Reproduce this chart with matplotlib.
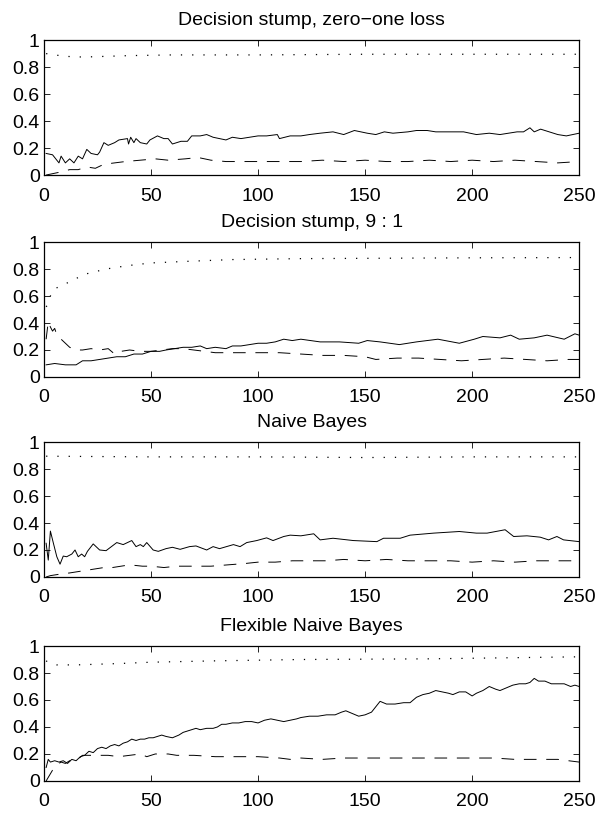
import matplotlib
matplotlib.use('Agg')
import matplotlib.pyplot as plt

plt.rcParams['font.family'] = ['Liberation Sans', 'DejaVu Sans']

titles = ['Decision stump, zero\u2212one loss', 'Decision stump, 9 : 1',
          'Naive Bayes', 'Flexible Naive Bayes']

# --- panel 1: decision stump, zero-one loss
p1_solid_x = [1, 4, 7, 8, 10, 12, 14, 16, 18, 20, 22, 25, 26, 28, 30, 33, 35, 39, 39.5, 40.5, 42,
              43, 45, 48, 49.5, 53, 56, 58, 60, 64, 67, 69, 73, 76, 79, 82, 85, 88, 92, 96, 100,
              104, 109, 110, 115, 120, 124, 129, 135, 140, 145, 151, 155, 159, 163, 170, 174, 179,
              183, 190, 196, 202, 208, 213, 221, 224, 227, 229, 232, 236, 240, 244, 247, 250]
p1_solid_y = [0.16, 0.15, 0.09, 0.14, 0.09, 0.12, 0.09, 0.14, 0.12, 0.19, 0.16, 0.15, 0.17, 0.24,
              0.22, 0.24, 0.26, 0.27, 0.23, 0.28, 0.24, 0.27, 0.24, 0.23, 0.26, 0.29, 0.27, 0.27,
              0.23, 0.25, 0.25, 0.29, 0.29, 0.30, 0.28, 0.27, 0.26, 0.28, 0.27, 0.28, 0.29, 0.29,
              0.30, 0.27, 0.29, 0.29, 0.30, 0.31, 0.32, 0.30, 0.33, 0.31, 0.30, 0.32, 0.31, 0.32,
              0.33, 0.33, 0.32, 0.32, 0.32, 0.30, 0.31, 0.30, 0.32, 0.32, 0.35, 0.32, 0.34, 0.32,
              0.30, 0.29, 0.30, 0.31]
p1_dash_x = [1, 4, 7, 12, 16, 20, 24, 28, 33, 38, 45, 52, 58, 66, 72, 78, 85, 95, 110, 120, 130,
             140, 150, 160, 170, 180, 190, 200, 210, 220, 230, 240, 250]
p1_dash_y = [0.0, 0.01, 0.02, 0.04, 0.04, 0.06, 0.05, 0.08, 0.09, 0.10, 0.11, 0.12, 0.11, 0.12,
             0.13, 0.11, 0.10, 0.10, 0.10, 0.10, 0.11, 0.10, 0.11, 0.10, 0.10, 0.11, 0.10, 0.11,
             0.10, 0.11, 0.10, 0.09, 0.10]
p1_dot_x = [1, 5, 10, 15, 20, 30, 40, 60, 100, 150, 200, 250]
p1_dot_y = [0.90, 0.89, 0.88, 0.875, 0.875, 0.88, 0.885, 0.89, 0.89, 0.895, 0.895, 0.895]

# --- panel 2: decision stump, 9:1
p2_solid_x = [1, 5, 10, 15, 18, 22, 26, 30, 34, 38, 42, 46, 50, 54, 57, 61, 65, 69, 73, 76, 80,
              85, 88, 92, 96, 100, 104, 108, 112, 116, 120, 129, 138, 147, 151, 157, 166, 174,
              184, 194, 201, 205, 213, 218, 222, 229, 235, 243, 248, 250]
p2_solid_y = [0.09, 0.10, 0.09, 0.09, 0.12, 0.12, 0.13, 0.14, 0.15, 0.15, 0.17, 0.17, 0.19, 0.19,
              0.20, 0.21, 0.22, 0.22, 0.23, 0.21, 0.22, 0.21, 0.23, 0.23, 0.24, 0.25, 0.25, 0.26,
              0.28, 0.27, 0.28, 0.26, 0.26, 0.25, 0.27, 0.26, 0.24, 0.26, 0.28, 0.25, 0.28, 0.30,
              0.29, 0.31, 0.28, 0.29, 0.31, 0.28, 0.32, 0.31]
p2_dash_x = [1, 2, 3, 4, 5, 6, 8, 10, 12, 15, 18, 22, 26, 30, 33, 36, 40, 45, 50, 55, 60, 65, 70,
             75, 80, 85, 90, 100, 110, 120, 130, 140, 150, 155, 165, 175, 185, 195, 205, 215,
             225, 235, 245, 250]
p2_dash_y = [0.28, 0.41, 0.37, 0.34, 0.36, 0.31, 0.28, 0.25, 0.22, 0.20, 0.20, 0.21, 0.20, 0.21,
             0.17, 0.19, 0.20, 0.19, 0.19, 0.20, 0.21, 0.21, 0.20, 0.19, 0.18, 0.18, 0.18, 0.18,
             0.18, 0.17, 0.16, 0.16, 0.15, 0.13, 0.14, 0.14, 0.13, 0.12, 0.13, 0.14, 0.13, 0.12,
             0.13, 0.13]
p2_dot_x = [1, 2, 3, 4.5, 10, 15, 20, 29, 39, 50, 67, 88, 120, 160, 200, 250]
p2_dot_y = [0.52, 0.54, 0.60, 0.65, 0.69, 0.73, 0.765, 0.80, 0.825, 0.845, 0.857, 0.87, 0.877,
            0.88, 0.883, 0.885]

# --- panel 3: naive Bayes
p3_solid_x = [1, 2, 3, 4.4, 6, 7.5, 9, 10.6, 13, 14.5, 16, 17.6, 19, 20.3, 23, 26, 29, 34, 37,
              41, 43, 45, 46.4, 48, 51, 53.4, 57, 60, 63.6, 68, 71, 76, 79, 82, 88.5, 91.6, 94.7,
              99.4, 104, 107, 112, 115, 120, 126, 129, 135, 144.5, 155.5, 158.6, 166.4, 171,
              182, 194, 202, 207, 215.4, 219.4, 225.6, 231.8, 235.7, 239.6, 242.7, 250]
p3_solid_y = [0.25, 0.125, 0.34, 0.25, 0.15, 0.095, 0.155, 0.15, 0.17, 0.20, 0.15, 0.17, 0.15,
              0.19, 0.245, 0.20, 0.195, 0.255, 0.24, 0.27, 0.225, 0.24, 0.225, 0.255, 0.20, 0.19,
              0.21, 0.22, 0.205, 0.225, 0.23, 0.20, 0.225, 0.21, 0.24, 0.225, 0.255, 0.27, 0.29,
              0.27, 0.30, 0.31, 0.305, 0.32, 0.275, 0.287, 0.27, 0.262, 0.287, 0.287, 0.31,
              0.325, 0.337, 0.325, 0.325, 0.35, 0.30, 0.305, 0.295, 0.275, 0.30, 0.275, 0.262]
p3_dash_x = [1, 3, 7, 12, 16, 20, 24, 28, 32, 36, 40, 46, 50, 56, 62, 70, 78, 86, 94, 100, 108,
             116, 124, 132, 140, 150, 160, 170, 180, 190, 200, 210, 220, 230, 240, 250]
p3_dash_y = [0.0, 0.01, 0.02, 0.03, 0.04, 0.05, 0.06, 0.07, 0.07, 0.08, 0.09, 0.08, 0.08, 0.07,
             0.08, 0.08, 0.08, 0.09, 0.10, 0.11, 0.11, 0.12, 0.12, 0.12, 0.13, 0.12, 0.13, 0.12,
             0.12, 0.12, 0.11, 0.12, 0.11, 0.12, 0.12, 0.12]
p3_dot_x = [1, 50, 100, 150, 200, 250]
p3_dot_y = [0.895, 0.89, 0.89, 0.885, 0.89, 0.89]

# --- panel 4: flexible naive Bayes
p4_solid_x = [1, 2, 3, 5, 7, 9, 11, 13, 15, 17, 19, 21, 23, 25, 27, 29, 31, 33, 35, 37, 39, 41,
              43, 45, 47, 49, 51, 53, 55, 57, 60, 63, 65, 67, 69, 71, 73, 76, 79, 81, 83, 85, 88,
              91, 94, 97, 100, 103, 106, 109, 112, 115, 118, 120, 124, 128, 132, 136, 139, 141,
              144, 147, 150, 153, 155, 157, 160, 164, 168, 171, 174, 177, 180, 183, 186, 189,
              191, 194, 197, 200, 202, 205, 208, 211, 213, 216, 219, 222, 225, 227, 229, 231,
              234, 237, 240, 243, 246, 248, 250]
p4_solid_y = [0.10, 0.16, 0.14, 0.15, 0.14, 0.15, 0.13, 0.16, 0.15, 0.18, 0.19, 0.22, 0.21, 0.24,
              0.25, 0.24, 0.26, 0.27, 0.26, 0.28, 0.29, 0.31, 0.30, 0.31, 0.31, 0.32, 0.32, 0.33,
              0.34, 0.33, 0.32, 0.34, 0.36, 0.37, 0.38, 0.39, 0.38, 0.39, 0.39, 0.40, 0.42, 0.42,
              0.43, 0.43, 0.44, 0.44, 0.43, 0.45, 0.46, 0.45, 0.44, 0.45, 0.46, 0.47, 0.48, 0.48,
              0.49, 0.49, 0.51, 0.52, 0.50, 0.48, 0.49, 0.51, 0.55, 0.59, 0.57, 0.57, 0.58, 0.58,
              0.62, 0.64, 0.65, 0.67, 0.66, 0.65, 0.64, 0.66, 0.66, 0.63, 0.65, 0.67, 0.70, 0.68,
              0.67, 0.69, 0.71, 0.72, 0.72, 0.73, 0.76, 0.74, 0.74, 0.72, 0.72, 0.72, 0.70, 0.71,
              0.70]
p4_dash_x = [1, 4, 6, 8, 10, 12, 15, 18, 25, 30, 35, 40, 45, 48, 52, 58, 62, 70, 80, 90, 100,
             110, 115, 120, 130, 140, 150, 160, 170, 180, 190, 200, 210, 220, 230, 240, 245, 250]
p4_dash_y = [0.0, 0.08, 0.12, 0.14, 0.13, 0.15, 0.15, 0.19, 0.19, 0.19, 0.18, 0.19, 0.20, 0.18,
             0.20, 0.20, 0.19, 0.19, 0.18, 0.18, 0.18, 0.17, 0.16, 0.17, 0.16, 0.17, 0.17, 0.17,
             0.17, 0.17, 0.17, 0.17, 0.17, 0.16, 0.16, 0.16, 0.15, 0.14]
p4_dot_x = [1, 3, 6, 15, 25, 35, 50, 80, 120, 180, 250]
p4_dot_y = [0.89, 0.87, 0.86, 0.86, 0.865, 0.87, 0.88, 0.89, 0.90, 0.905, 0.92]

panels = [
    (p1_solid_x, p1_solid_y, p1_dash_x, p1_dash_y, p1_dot_x, p1_dot_y),
    (p2_solid_x, p2_solid_y, p2_dash_x, p2_dash_y, p2_dot_x, p2_dot_y),
    (p3_solid_x, p3_solid_y, p3_dash_x, p3_dash_y, p3_dot_x, p3_dot_y),
    (p4_solid_x, p4_solid_y, p4_dash_x, p4_dash_y, p4_dot_x, p4_dot_y),
]

xticks = [0, 50, 100, 150, 200, 250]
yticks = [0, 0.2, 0.4, 0.6, 0.8, 1]
ytick_labels = ['0', '0.2', '0.4', '0.6', '0.8', '1']

fig = plt.figure(figsize=(6, 8.13), dpi=100)
bottoms = [0.7847, 0.5363, 0.2903, 0.0394]

for i, (sx, sy, dx, dy, ox, oy) in enumerate(panels):
    ax = fig.add_axes([0.0733, bottoms[i], 0.892, 0.166])
    ax.plot(sx, sy, color='black', lw=0.7)
    ax.plot(dx, dy, color='black', lw=0.7, linestyle=(0, (13, 10)))
    ax.plot(ox, oy, color='black', lw=0.9, linestyle=(0, (1, 8)))
    ax.set_xlim(0, 250)
    ax.set_ylim(0, 1)
    ax.set_xticks(xticks)
    ax.set_yticks(yticks)
    ax.set_yticklabels(ytick_labels)
    ax.tick_params(direction='in', top=True, right=True, length=4, width=0.6,
                   labelsize=14)
    ax.tick_params(axis='x', pad=9)
    ax.tick_params(axis='y', pad=3)
    for sp in ax.spines.values():
        sp.set_linewidth(0.9)
    ax.set_title(titles[i], fontsize=14, pad=11)

fig.savefig('out.png', dpi=100)
